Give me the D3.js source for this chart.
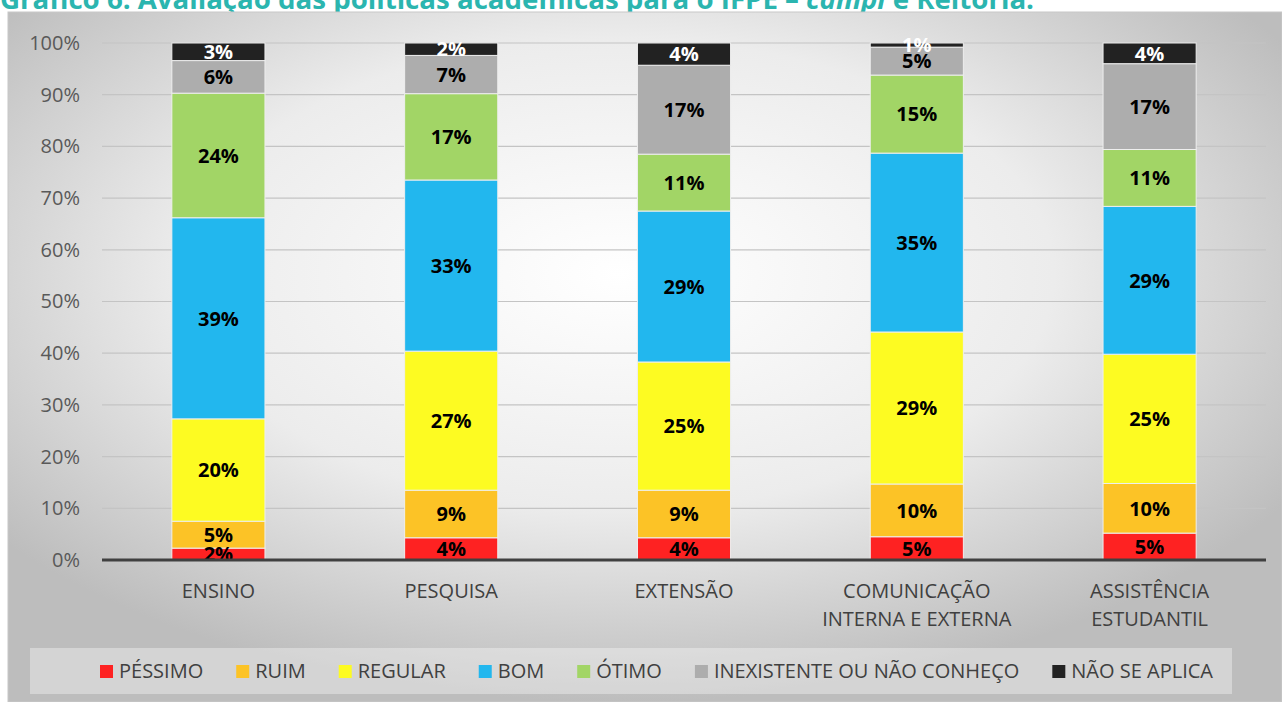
<!DOCTYPE html>
<head>
  <meta charset="utf-8">
  <script src="https://d3js.org/d3.v7.min.js"></script>
  <style>
    body { margin:0; background:#fff; }
    svg { display:block; }
    text { font-family: "Open Sans", sans-serif; }
  </style>
</head>
<body>
<script>
  var width = 1282, height = 702;

  // categorias e séries (% por eixo avaliado)
  var categories = [["ENSINO"], ["PESQUISA"], ["EXTENSÃO"], ["COMUNICAÇÃO", "INTERNA E EXTERNA"], ["ASSISTÊNCIA", "ESTUDANTIL"]];
  var seriesNames = ["PÉSSIMO", "RUIM", "REGULAR", "BOM", "ÓTIMO", "INEXISTENTE OU NÃO CONHEÇO", "NÃO SE APLICA"];
  var pessimo     = [2.3, 4.3, 4.3, 4.5, 5.2];
  var ruim        = [5.2, 9.2, 9.2, 10.2, 9.6];
  var regular     = [19.8, 26.9, 24.8, 29.4, 25.0];
  var bom         = [38.9, 33.1, 29.2, 34.6, 28.6];
  var otimo       = [24.1, 16.7, 11.0, 15.1, 11.0];
  var inexistente = [6.3, 7.4, 17.2, 5.4, 16.6];
  var naoSeAplica = [3.4, 2.4, 4.3, 0.8, 4.0];
  var yTicks = [0, 10, 20, 30, 40, 50, 60, 70, 80, 90, 100];

  var colors = ["#fe2222", "#fcc326", "#fdfb22", "#22b7ee", "#a2d566", "#adadad", "#222222"];
  var allSeries = [pessimo, ruim, regular, bom, otimo, inexistente, naoSeAplica];

  var table = categories.map(function(c, i) {
    var row = { cat: c.join(" ") };
    seriesNames.forEach(function(s, j) { row[s] = allSeries[j][i]; });
    return row;
  });

  var svg = d3.select("body").append("svg")
    .attr("width", width).attr("height", height);

  var defs = svg.append("defs");
  var grad = defs.append("radialGradient").attr("id", "bg")
    .attr("cx", "48%").attr("cy", "38%").attr("r", "62%");
  grad.append("stop").attr("offset", "0%").attr("stop-color", "#ffffff");
  grad.append("stop").attr("offset", "55%").attr("stop-color", "#ececec");
  grad.append("stop").attr("offset", "100%").attr("stop-color", "#bdbdbd");

  // título (cortado no topo da página)
  var title = svg.append("text")
    .attr("x", 0).attr("y", 9)
    .attr("fill", "#2bb5af")
    .attr("font-size", 26).attr("font-weight", "bold")
    .attr("textLength", 1034).attr("lengthAdjust", "spacingAndGlyphs");
  title.append("tspan").text("Gráfico 6: Avaliação das políticas acadêmicas para o IFPE – ");
  title.append("tspan").attr("font-style", "italic").text("campi");
  title.append("tspan").text(" e Reitoria.");

  // área do gráfico
  svg.append("rect")
    .attr("x", 8).attr("y", 12).attr("width", width - 8).attr("height", height - 12)
    .attr("fill", "url(#bg)")
    .attr("stroke", "#c8c8c8").attr("stroke-width", 1);

  var x = d3.scaleBand()
    .domain(table.map(function(d) { return d.cat; }))
    .range([102, 1266])
    .paddingInner(0.6).paddingOuter(0.3);

  var y = d3.scaleLinear().domain([0, 100]).range([560, 43]);

  // grade
  svg.append("g").selectAll("line")
    .data(yTicks.slice(1))
    .enter().append("line")
    .attr("x1", 102).attr("x2", 1266)
    .attr("y1", function(d) { return y(d); }).attr("y2", function(d) { return y(d); })
    .attr("stroke", "#c4c4c4").attr("stroke-width", 1.2);

  var yAxis = svg.append("g")
    .attr("transform", "translate(84,0)")
    .call(d3.axisLeft(y).tickValues(yTicks).tickSize(0).tickPadding(4)
      .tickFormat(function(d) { return d + "%"; }));
  yAxis.select(".domain").remove();
  yAxis.selectAll("text")
    .attr("font-family", "Open Sans").attr("font-size", 20).attr("fill", "#595959");

  var stack = d3.stack().keys(seriesNames);
  var layers = stack(table);

  var layer = svg.append("g").selectAll("g.layer")
    .data(layers)
    .enter().append("g")
    .attr("class", "layer")
    .attr("fill", function(d, i) { return colors[i]; });

  layer.selectAll("rect")
    .data(function(d) { return d; })
    .enter().append("rect")
    .attr("x", function(d) { return x(d.data.cat); })
    .attr("width", x.bandwidth())
    .attr("y", function(d) { return y(d[1]); })
    .attr("height", function(d) { return y(d[0]) - y(d[1]); })
    .attr("stroke", "#eeeeee").attr("stroke-width", 1);

  // rótulos de valor
  layers.forEach(function(l, i) {
    svg.append("g").selectAll("text")
      .data(l)
      .enter().append("text")
      .attr("x", function(d) { return x(d.data.cat) + x.bandwidth() / 2; })
      .attr("y", function(d) { return (y(d[0]) + y(d[1])) / 2; })
      .attr("dy", "0.36em")
      .attr("text-anchor", "middle")
      .attr("font-size", 20).attr("font-weight", "bold")
      .attr("fill", i === 6 ? "#ffffff" : "#000000")
      .text(function(d) { return Math.round(d[1] - d[0]) + "%"; });
  });

  // eixo x
  svg.append("line")
    .attr("x1", 102).attr("x2", 1266)
    .attr("y1", y(0)).attr("y2", y(0))
    .attr("stroke", "#404040").attr("stroke-width", 3);

  var catLabels = svg.append("g").selectAll("text")
    .data(categories)
    .enter().append("text")
    .attr("x", function(d) { return x(d.join(" ")) + x.bandwidth() / 2; })
    .attr("y", 598)
    .attr("text-anchor", "middle")
    .attr("font-size", 20).attr("fill", "#404040");
  catLabels.selectAll("tspan")
    .data(function(d) { return d; })
    .enter().append("tspan")
    .attr("x", function() { return d3.select(this.parentNode).attr("x"); })
    .attr("dy", function(d, i) { return i === 0 ? 0 : 28; })
    .text(function(d) { return d; });

  // legenda
  svg.append("rect")
    .attr("x", 30).attr("y", 648).attr("width", 1202).attr("height", 46)
    .attr("fill", "#ffffff").attr("fill-opacity", 0.35);

  var legend = svg.append("g");
  var items = legend.selectAll("g")
    .data(seriesNames)
    .enter().append("g");
  items.append("rect")
    .attr("width", 13).attr("height", 13)
    .attr("y", 665)
    .attr("fill", function(d, i) { return colors[i]; });
  items.append("text")
    .attr("x", 19).attr("y", 678)
    .attr("font-size", 20).attr("fill", "#404040")
    .text(function(d) { return d; });

  var widths = [];
  items.each(function() { widths.push(19 + d3.select(this).select("text").node().getComputedTextLength()); });
  var gap = (1213 - 100 - d3.sum(widths)) / (widths.length - 1);
  var pos = 100;
  items.attr("transform", function(d, i) {
    var t = "translate(" + pos + ",0)";
    pos += widths[i] + gap;
    return t;
  });
</script>
</body>
